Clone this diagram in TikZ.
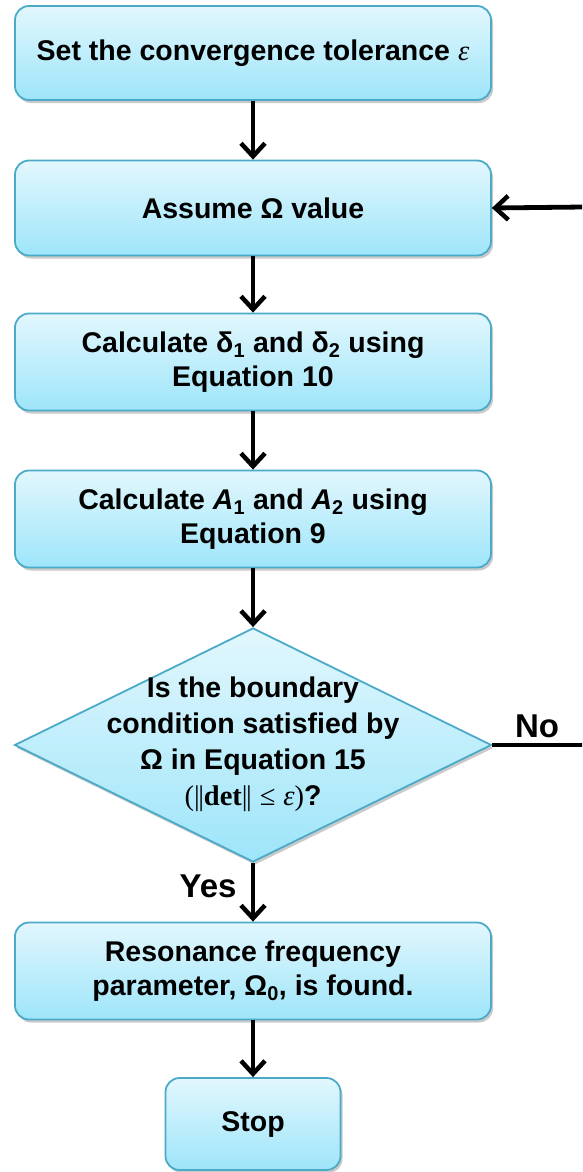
\documentclass[tikz,border=0pt]{standalone}
\usepackage{fontspec}
\setmainfont{Liberation Sans}
\newfontfamily\seriff{Liberation Serif}
\newcommand{\epsit}{{\mdseries\seriff\itshape ε}}
\newcommand{\dbar}{{\mdseries\seriff|\kern-1.5pt|}}
\usetikzlibrary{shapes.geometric,arrows.meta,shadows}
\definecolor{boxtop}{RGB}{226,247,253}
\definecolor{boxbot}{RGB}{158,229,250}
\definecolor{boxline}{RGB}{75,170,200}
\tikzset{
  flowbox/.style={draw=boxline, line width=1.8pt, rounded corners=14pt,
    top color=boxtop, bottom color=boxbot, align=center,
    font=\fontsize{28.5}{34}\selectfont\bfseries, inner sep=0pt,
    drop shadow={shadow xshift=2pt, shadow yshift=-3pt, opacity=0.35, fill=black!60}},
  decide/.style={flowbox, diamond, rounded corners=0pt},
  boxtext/.style={align=center, font=\fontsize{28.5}{36}\selectfont\bfseries, inner sep=0pt},
  flowarrow/.style={line width=4.8pt, -{Straight Barb[length=13pt,width=24pt,line width=4.5pt]}},
  flowline/.style={line width=4.8pt},
  lbl/.style={font=\fontsize{33}{38}\selectfont\bfseries, inner sep=0pt}
}
\begin{document}
\begin{tikzpicture}[x=1pt,y=-1pt]
\useasboundingbox (0,0) rectangle (582,1172);
\clip (0,0) rectangle (582,1172);
\node[flowbox, minimum width=476pt, minimum height=94pt] (b1) at (253,53)
  {Set the convergence tolerance \epsit};
\node[flowbox, minimum width=476pt, minimum height=95pt] (b2) at (253,208)
  {Assume Ω value};
\node[flowbox, minimum width=476pt, minimum height=97pt] (b3) at (253,362)
  {Calculate δ\textsubscript{1} and δ\textsubscript{2} using\\Equation 10};
\node[flowbox, minimum width=476pt, minimum height=97pt] (b4) at (253,519)
  {Calculate \textit{A}\textsubscript{1} and \textit{A}\textsubscript{2} using\\Equation 9};
\node[decide, minimum width=477pt, minimum height=234pt] (d) at (253,745) {};
\node[boxtext] (dtext) at (253,744)
  {Is the boundary\\condition satisfied by\\Ω in Equation 15\\{\mdseries\seriff(}\dbar{\seriff det}\dbar\ {\mdseries\seriff ≤}\ \epsit{\mdseries\seriff)}?};
\node[flowbox, minimum width=476pt, minimum height=97pt] (b5) at (253,971)
  {Resonance frequency\\parameter, Ω\textsubscript{0}, is found.};
\node[flowbox, minimum width=175pt, minimum height=92pt] (stop) at (253,1124)
  {Stop};
\draw[flowarrow] (b1) -- (b2);
\draw[flowarrow] (b2) -- (b3);
\draw[flowarrow] (b3) -- (b4);
\draw[flowarrow] (b4) -- (d);
\draw[flowarrow] (d) -- (b5);
\draw[flowarrow] (b5) -- (stop);
\coordinate (corner) at (584,745);
\coordinate (back) at (584,207);
\draw[flowline] (d.east) -- (corner);
\draw[line width=1.2pt, black!25] (corner) -- (back);
\draw[flowarrow] (back) -- (b2.east);
\node[lbl] (no) at (537,726) {No};
\node[lbl] (yes) at (208,886) {Yes};
\end{tikzpicture}
\end{document}
